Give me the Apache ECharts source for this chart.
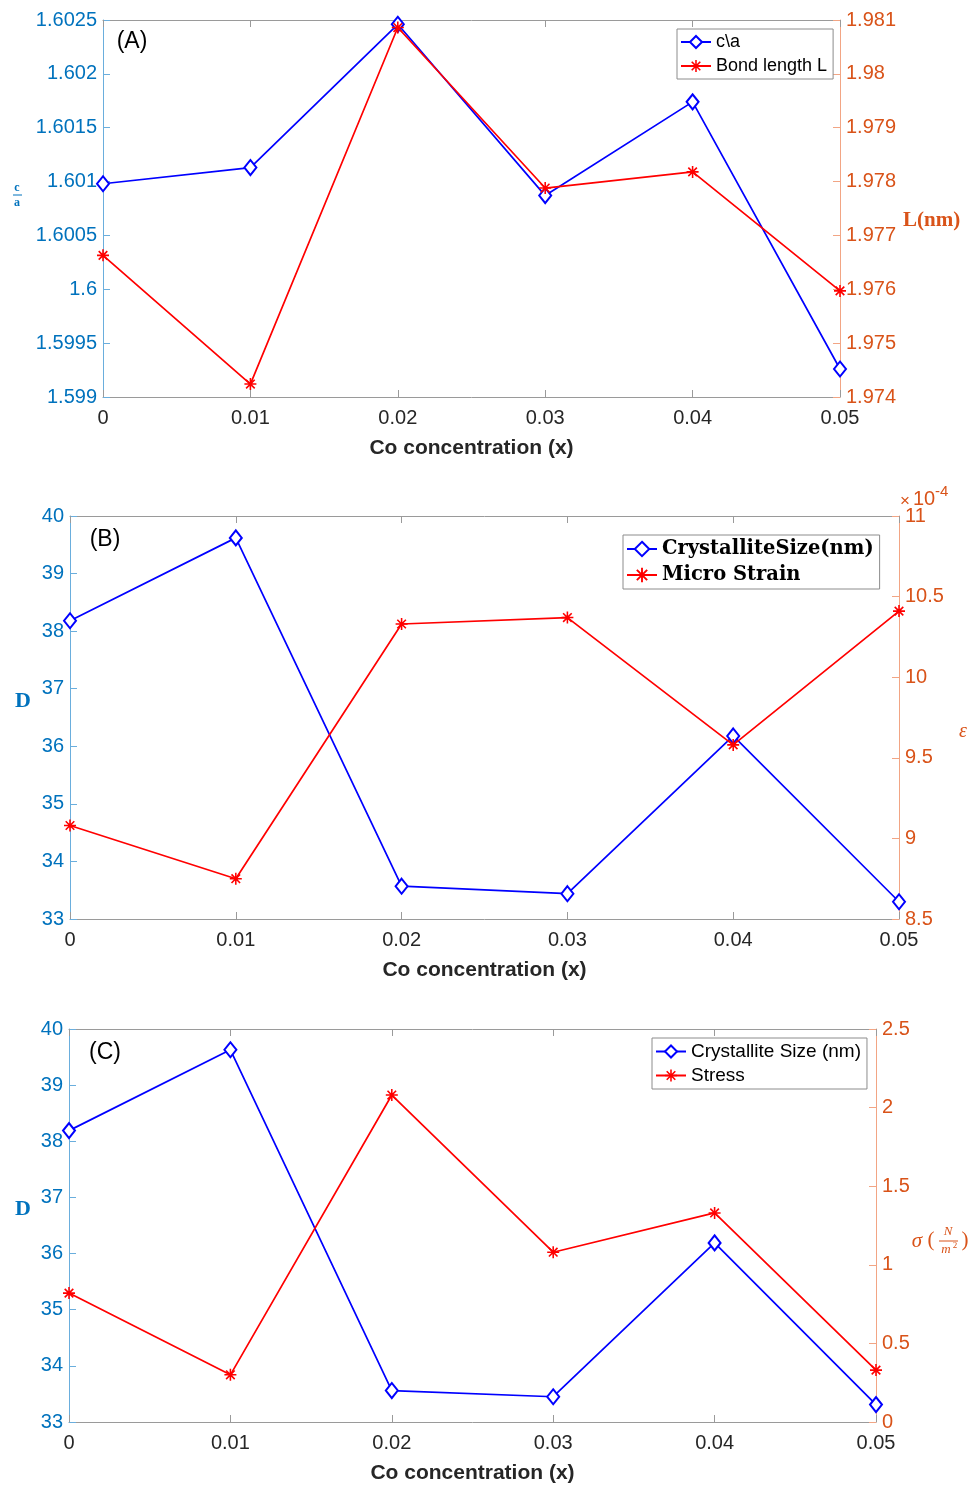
<!DOCTYPE html>
<html>
<head>
<meta charset="utf-8">
<script src="https://cdn.jsdelivr.net/npm/echarts@6/dist/echarts.min.js"></script>
<style>
  html, body { margin: 0; padding: 0; background: #ffffff; }
  #chart { width: 971px; height: 1487px; }
</style>
</head>
<body>
<div id="chart"></div>
<script>
// Co concentration (x) on the shared horizontal axis
const coConcentration = [0, 0.01, 0.02, 0.03, 0.04, 0.05];
const xTickLabels = ['0', '0.01', '0.02', '0.03', '0.04', '0.05'];

// (A) lattice ratio c/a and bond length L (nm)
const cOverA = [1.60098, 1.60113, 1.60246, 1.60087, 1.60174, 1.59926];
const bondLength = [1.97663, 1.97424, 1.98086, 1.97788, 1.97818, 1.97597];
const cOverATicks = ['1.599', '1.5995', '1.6', '1.6005', '1.601', '1.6015', '1.602', '1.6025'];
const bondLengthTicks = ['1.974', '1.975', '1.976', '1.977', '1.978', '1.979', '1.98', '1.981'];

// (B) crystallite size D (nm) and micro strain (in units of 1e-4)
const crystalliteSize = [38.18, 39.62, 33.57, 33.44, 36.18, 33.30];
const microStrain = [9.08, 8.75, 10.33, 10.37, 9.58, 10.41];
const sizeTicks = ['33', '34', '35', '36', '37', '38', '39', '40'];
const strainTicks = ['8.5', '9', '9.5', '10', '10.5', '11'];

// (C) crystallite size D (nm) and stress sigma (N/m^2)
const crystalliteSizeC = [38.19, 39.63, 33.56, 33.45, 36.19, 33.31];
const stress = [0.82, 0.30, 2.08, 1.08, 1.33, 0.33];
const stressTicks = ['0', '0.5', '1', '1.5', '2', '2.5'];

const BLUE = '#0000ff';
const RED = '#ff0000';
const LEFT_C = '#0072bd';
const RIGHT_C = '#d95319';
const SANS = 'Liberation Sans, Arial, Helvetica, sans-serif';
const SERIF = 'Liberation Serif, Times New Roman, serif';
const WIDE_SERIF = 'DejaVu Serif, serif';

// eight-armed asterisk marker
const ASTERISK = 'path://M8.7,0L11.3,0L11.3,20L8.7,20Z M0,8.7L20,8.7L20,11.3L0,11.3Z M1.9,3.8L3.8,1.9L18.1,16.2L16.2,18.1Z M16.2,1.9L18.1,3.8L3.8,18.1L1.9,16.2Z';

function pairs(ys) { return coConcentration.map((x, i) => [x, ys[i]]); }
function tickFormatter(labels, min, step) {
  return v => labels[Math.round((v - min) / step)] ?? '';
}

const grids = [
  { left: 103, top: 20, width: 737, height: 377 },
  { left: 70, top: 516, width: 829, height: 403 },
  { left: 69, top: 1029, width: 807, height: 393 }
];

const xAxes = [];
grids.forEach((g, k) => {
  xAxes.push({
    type: 'value', gridIndex: k, position: 'bottom', min: 0, max: 0.05, interval: 0.01,
    name: 'Co concentration (x)', nameLocation: 'middle', nameGap: 41,
    nameTextStyle: { fontFamily: SANS, fontWeight: 'bold', fontSize: 21, color: '#262626' },
    axisLine: { show: true, onZero: false, lineStyle: { color: '#9a9a9a', width: 1 } },
    axisTick: { show: true, inside: true, length: 7, lineStyle: { color: '#9a9a9a' } },
    axisLabel: { fontFamily: SANS, fontSize: 20, color: '#262626', margin: 11,
      formatter: tickFormatter(xTickLabels, 0, 0.01) },
    splitLine: { show: false }
  });
  xAxes.push({
    type: 'value', gridIndex: k, position: 'top', min: 0, max: 0.05, interval: 0.01,
    axisLine: { show: true, onZero: false, lineStyle: { color: '#9a9a9a', width: 1 } },
    axisTick: { show: true, inside: true, length: 7, lineStyle: { color: '#9a9a9a' } },
    axisLabel: { show: false },
    splitLine: { show: false }
  });
});

function yAxis(k, side, min, max, step, labels, color, lineColor) {
  return {
    type: 'value', gridIndex: k, position: side, min: min, max: max, interval: step,
    axisLine: { show: true, onZero: false, lineStyle: { color: lineColor, width: 1 } },
    axisTick: { show: true, inside: true, length: 7, lineStyle: { color: lineColor } },
    axisLabel: { fontFamily: SANS, fontSize: 20, color: color, margin: 6,
      formatter: tickFormatter(labels, min, step) },
    splitLine: { show: false }
  };
}

const yAxes = [
  yAxis(0, 'left', 1.599, 1.6025, 0.0005, cOverATicks, LEFT_C, '#6aaedd'),
  yAxis(0, 'right', 1.974, 1.981, 0.001, bondLengthTicks, RIGHT_C, '#f2a584'),
  yAxis(1, 'left', 33, 40, 1, sizeTicks, LEFT_C, '#6aaedd'),
  yAxis(1, 'right', 8.5, 11, 0.5, strainTicks, RIGHT_C, '#f2a584'),
  yAxis(2, 'left', 33, 40, 1, sizeTicks, LEFT_C, '#6aaedd'),
  yAxis(2, 'right', 0, 2.5, 0.5, stressTicks, RIGHT_C, '#f2a584')
];

function diamondSeries(name, k, yIdx, ys) {
  return {
    name: name, type: 'line', xAxisIndex: 2 * k, yAxisIndex: yIdx, data: pairs(ys),
    clip: false, symbol: 'emptyDiamond', symbolSize: [12, 15],
    lineStyle: { color: BLUE, width: 1.7 },
    itemStyle: { color: BLUE, borderColor: BLUE, borderWidth: 1.7 },
    emphasis: { disabled: true }, z: 3
  };
}
function starSeries(name, k, yIdx, ys) {
  return {
    name: name, type: 'line', xAxisIndex: 2 * k, yAxisIndex: yIdx, data: pairs(ys),
    clip: false, symbol: ASTERISK, symbolSize: 12,
    lineStyle: { color: RED, width: 1.7 },
    itemStyle: { color: RED },
    emphasis: { disabled: true }, z: 4
  };
}

const series = [
  diamondSeries('c\\a', 0, 0, cOverA),
  starSeries('Bond length L', 0, 1, bondLength),
  diamondSeries('CrystalliteSize(nm)', 1, 2, crystalliteSize),
  starSeries('Micro Strain', 1, 3, microStrain),
  diamondSeries('Crystallite Size (nm)', 2, 4, crystalliteSizeC),
  starSeries('Stress', 2, 5, stress)
];

function legend(names, left, top, textStyle, gap, itemHeight) {
  return {
    data: names, orient: 'vertical', left: left, top: top,
    itemWidth: 30, itemHeight: itemHeight, itemGap: gap,
    padding: [4, 6, 4, 3],
    backgroundColor: '#ffffff', borderColor: '#8c8c8c', borderWidth: 1,
    selectedMode: false, textStyle: textStyle
  };
}

const legends = [
  legend(['c\\a', 'Bond length L'], 677, 29,
    { fontFamily: SANS, fontSize: 18, color: '#000' }, 6, 15),
  legend(['CrystalliteSize(nm)', 'Micro Strain'], 623, 535,
    { fontFamily: WIDE_SERIF, fontWeight: 'bold', fontSize: 19.5, color: '#000' }, 6, 18),
  legend(['Crystallite Size (nm)', 'Stress'], 652, 1038,
    { fontFamily: SANS, fontSize: 19, color: '#000' }, 5, 15)
];

function txt(x, y, text, font, fill, align) {
  return { type: 'text', x: x, y: y, z: 10,
    style: { text: text, font: font, fill: fill, align: align || 'center', verticalAlign: 'middle',
      textAlign: align || 'center', textVerticalAlign: 'middle' } };
}
function rule(x1, x2, y, color) {
  return { type: 'line', z: 10, shape: { x1: x1, y1: y, x2: x2, y2: y },
    style: { stroke: color, lineWidth: 1 } };
}

const graphics = [
  // panel letters
  txt(132, 42, '(A)', '23px ' + SANS, '#000'),
  txt(105, 540, '(B)', '23px ' + SANS, '#000'),
  txt(105, 1053, '(C)', '23px ' + SANS, '#000'),
  // (A) left axis name: c over a
  txt(17, 188, 'c', 'bold 12px ' + SERIF, LEFT_C),
  rule(13, 22, 195, LEFT_C),
  txt(17, 203, 'a', 'bold 12px ' + SERIF, LEFT_C),
  // (A) right axis name
  txt(903, 221, 'L(nm)', 'bold 21px ' + SERIF, RIGHT_C, 'left'),
  // (B) axis names
  txt(23, 701, 'D', 'bold 22px ' + SERIF, LEFT_C),
  txt(963, 732, '\u03b5', 'italic 20px ' + SERIF, RIGHT_C),
  txt(900, 501, '\u00d7', '17px ' + SANS, RIGHT_C, 'left'),
  txt(913, 499, '10', '20px ' + SANS, RIGHT_C, 'left'),
  txt(935, 492, '-4', '15px ' + SANS, RIGHT_C, 'left'),
  // (C) axis names
  txt(23, 1209, 'D', 'bold 22px ' + SERIF, LEFT_C),
  txt(917, 1241, '\u03c3', 'italic 21px ' + SERIF, RIGHT_C),
  txt(931, 1240, '(', '21px ' + SERIF, RIGHT_C),
  txt(948, 1232, 'N', 'italic 13px ' + SERIF, RIGHT_C),
  rule(939, 958, 1241, RIGHT_C),
  txt(946, 1250, 'm', 'italic 13px ' + SERIF, RIGHT_C),
  txt(955, 1246, '2', '9px ' + SERIF, RIGHT_C),
  txt(965, 1240, ')', '21px ' + SERIF, RIGHT_C)
];

const chart = echarts.init(document.getElementById('chart'), null, { renderer: 'canvas' });
chart.setOption({
  animation: false,
  backgroundColor: '#ffffff',
  grid: grids,
  xAxis: xAxes,
  yAxis: yAxes,
  legend: legends,
  series: series,
  graphic: graphics
});
</script>
</body>
</html>
